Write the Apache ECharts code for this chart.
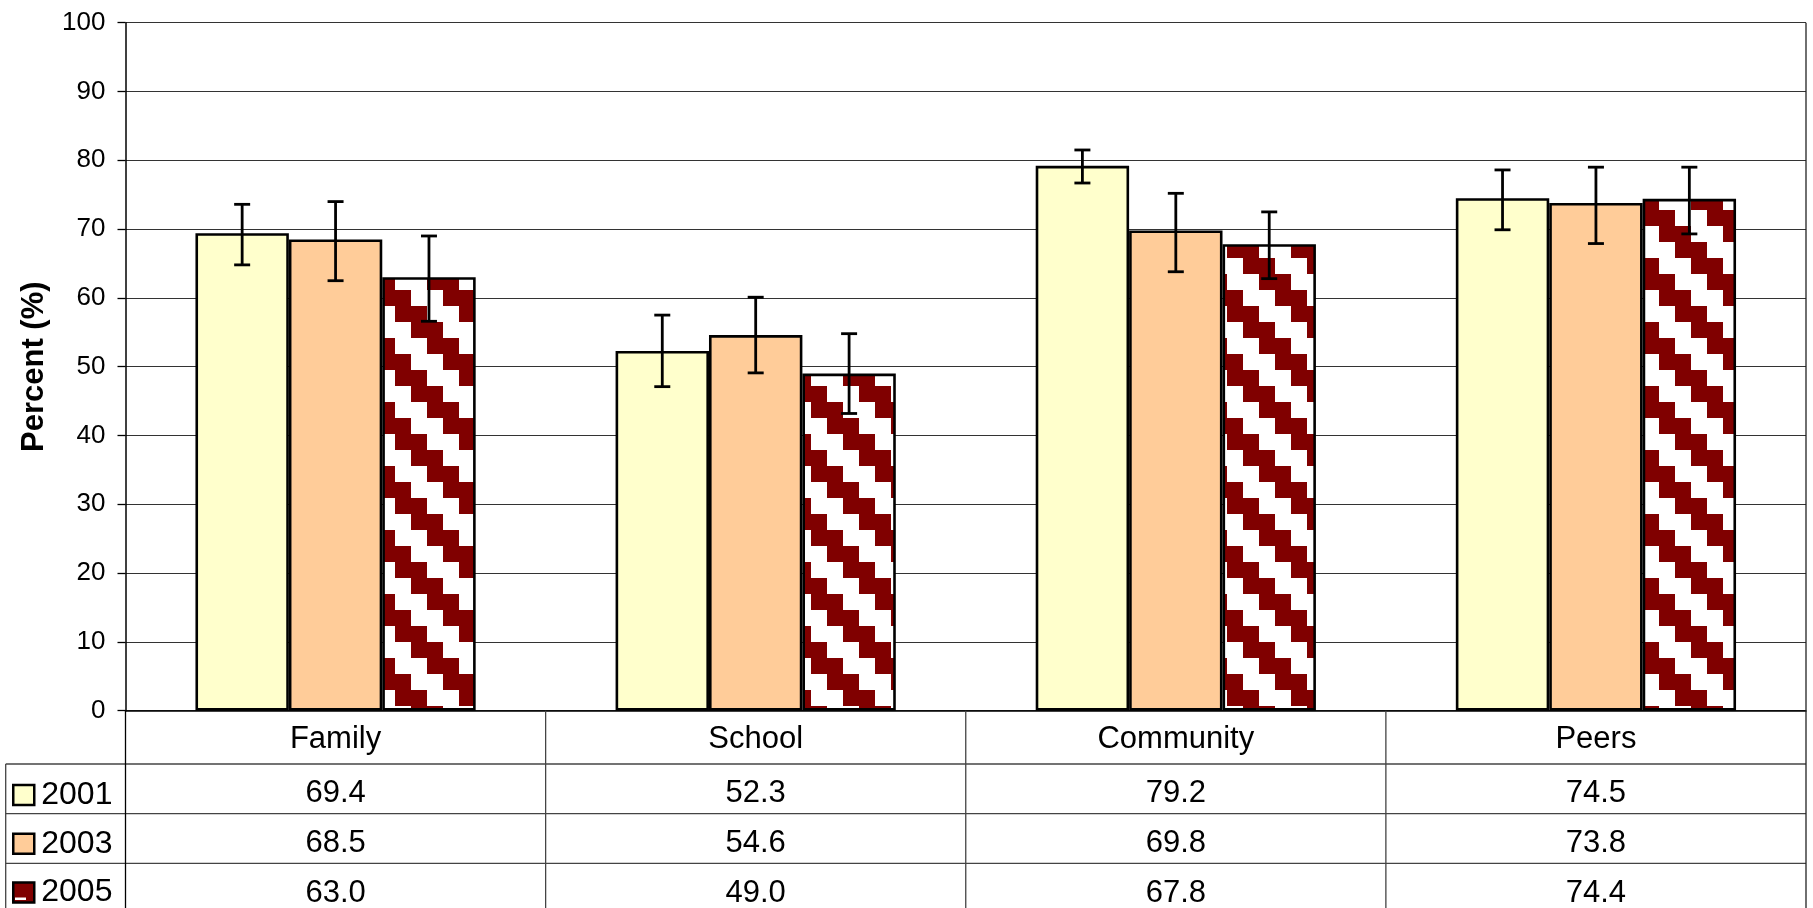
<!DOCTYPE html>
<html><head><meta charset="utf-8">
<script src="https://cdn.jsdelivr.net/npm/echarts@6/dist/echarts.min.js"></script>
<style>html,body{margin:0;padding:0;background:#fff}#c{width:1813px;height:908px}</style>
</head><body><div id="c"></div>
<script>
// ---- data ----
const categories = ['Family', 'School', 'Community', 'Peers'];
const years = ['2001', '2003', '2005'];
const values2001 = [69.4, 52.3, 79.2, 74.5];
const values2003 = [68.5, 54.6, 69.8, 73.8];
const values2005 = [63.0, 49.0, 67.8, 74.4];
const errLow2001 = [64.8, 47.1, 76.7, 69.9];
const errHigh2001 = [73.6, 57.5, 81.5, 78.6];
const errLow2003 = [62.5, 49.1, 63.8, 67.9];
const errHigh2003 = [74.0, 60.1, 75.2, 79.0];
const errLow2005 = [56.6, 43.2, 62.8, 69.3];
const errHigh2005 = [69.0, 54.8, 72.5, 79.0];
const tableLabels2001 = ['69.4', '52.3', '79.2', '74.5'];
const tableLabels2003 = ['68.5', '54.6', '69.8', '73.8'];
const tableLabels2005 = ['63.0', '49.0', '67.8', '74.4'];
const yMin = 0, yMax = 100, yStep = 10;

// ---- layout / style ----
const W = 1813, H = 908;
const L = 125.5, R = 1806, T = 22.7, B0 = 710.7;
const rowLines = [764, 813.7, 863.3];
const rowH = 49.6;
const tableLeft = 5.7;
const FONT = '"Liberation Sans", Arial, sans-serif';
const lineCol = '#444';

function makePattern() {
  const c = document.createElement('canvas'); c.width = 64; c.height = 64;
  const g = c.getContext('2d');
  g.fillStyle = '#fff'; g.fillRect(0, 0, 64, 64);
  g.fillStyle = '#800000';
  for (let r = 0; r < 4; r++) {
    const y0 = 2 + 16 * r, x0 = 27 + 16 * r;
    for (const dy of [-64, 0]) for (const dx of [-128, -64, 0, 64]) g.fillRect(x0 + dx, y0 + dy, 32, 16);
  }
  return c;
}
const pattern = { image: makePattern(), repeat: 'repeat' };

const chart = echarts.init(document.getElementById('c'), null, { renderer: 'canvas' });

const BCG = 0.333;
function errRender(s) {
  return function (params, api) {
    const i = api.value(0);
    const lo = api.coord([i, api.value(1)]);
    const hi = api.coord([i, api.value(2)]);
    const cw = api.size([1, 0])[0];
    const bw = cw * (1 - BCG) / 3;
    const x = lo[0] + (s - 1) * bw;
    const h = 8;
    const st = { stroke: '#000', lineWidth: 2.8 };
    return { type: 'group', children: [
      { type: 'line', shape: { x1: x, y1: hi[1], x2: x, y2: lo[1] }, style: st },
      { type: 'line', shape: { x1: x - h, y1: hi[1], x2: x + h, y2: hi[1] }, style: st },
      { type: 'line', shape: { x1: x - h, y1: lo[1], x2: x + h, y2: lo[1] }, style: st }
    ] };
  };
}
function errData(lo, hi) { return categories.map((c, i) => [i, lo[i], hi[i]]); }

const barColors = ['#FFFFCC', '#FFCC99', pattern];
const legendColors = ['#FFFFCC', '#FFCC99', '#800000'];
const barValues = [values2001, values2003, values2005];
const errs = [[errLow2001, errHigh2001], [errLow2003, errHigh2003], [errLow2005, errHigh2005]];

const series = [];
years.forEach((y, s) => {
  series.push({
    name: y, type: 'bar', data: barValues[s],
    barGap: '0%', barCategoryGap: (BCG * 100) + '%',
    itemStyle: { color: barColors[s], borderColor: '#000', borderWidth: 2.6 },
    emphasis: { disabled: true }, z: 2
  });
});
years.forEach((y, s) => {
  series.push({
    name: 'err' + y, type: 'custom', renderItem: errRender(s),
    data: errData(errs[s][0], errs[s][1]), encode: { x: 0, y: [1, 2] }, z: 5, silent: true
  });
});

const legends = years.map((y, s) => ({
  data: [{ name: y, itemStyle: { color: legendColors[s], borderColor: '#000', borderWidth: 2.5 } }],
  orient: 'vertical', left: 12, top: 779 + s * 48.7, itemWidth: 21, itemHeight: 20,
  icon: 'rect', selectedMode: false, padding: 0,
  textStyle: { fontSize: 32, color: '#000', fontFamily: FONT, lineHeight: 20, padding: [0, 0, 0, 2] }
}));

chart.setOption({
  animation: false,
  backgroundColor: '#fff',
  textStyle: { fontFamily: FONT },
  grid: { left: L, right: W - R, top: T, bottom: H - B0, containLabel: false },
  legend: legends,
  xAxis: {
    type: 'category', data: categories,
    axisLine: { show: true, lineStyle: { color: '#000', width: 1.5 } },
    axisTick: { show: false },
    axisLabel: { fontSize: 31, color: '#000', margin: 29, verticalAlign: 'middle', fontFamily: FONT }
  },
  yAxis: {
    type: 'value', min: yMin, max: yMax, interval: yStep,
    name: 'Percent (%)', nameLocation: 'middle', nameRotate: 90, nameGap: 76,
    nameTextStyle: { fontSize: 31, fontWeight: 'bold', color: '#000', fontFamily: FONT },
    axisLine: { show: true, lineStyle: { color: '#000', width: 1.5 } },
    axisTick: { show: true, length: 8, inside: false, lineStyle: { color: '#000', width: 1.3 } },
    axisLabel: { fontSize: 26, color: '#000', margin: 20, fontFamily: FONT },
    splitLine: { show: true, lineStyle: { color: '#333', width: 1.2 } }
  },
  series: series
});

// ---- data table ----
const graphic = [];
function hline(y, x1, x2) { graphic.push({ type: 'line', shape: { x1: x1, y1: y, x2: x2, y2: y }, style: { stroke: lineCol, lineWidth: 1.3 }, z: 10 }); }
function vline(x, y1, y2, col) { graphic.push({ type: 'line', shape: { x1: x, y1: y1, x2: x, y2: y2 }, style: { stroke: col || lineCol, lineWidth: 1.3 }, z: 10 }); }
rowLines.forEach(y => hline(y, tableLeft, R));
vline(L, B0, H, '#000');
vline(R, T, H, '#222');
vline(tableLeft, rowLines[0], H);
const catW = (R - L) / categories.length;
for (let k = 1; k < categories.length; k++) vline(L + k * catW, B0, H);

const rowTexts = [tableLabels2001, tableLabels2003, tableLabels2005];
rowTexts.forEach((arr, r) => {
  const yc = rowLines[0] + r * rowH + rowH / 2 + 5;
  arr.forEach((t, i) => {
    const x = chart.convertToPixel({ xAxisIndex: 0 }, categories[i]);
    graphic.push({ type: 'text', x: x, y: yc, style: { text: t, fontSize: 31, fontFamily: FONT, fill: '#000', align: 'center', verticalAlign: 'middle' }, z: 10 });
  });
});
// small white mark on the 2005 legend key
graphic.push({ type: 'rect', shape: { x: 15, y: 897.5, width: 11, height: 2.5 }, style: { fill: '#fff' }, z: 20 });
chart.setOption({ graphic: graphic });
</script>
</body></html>
